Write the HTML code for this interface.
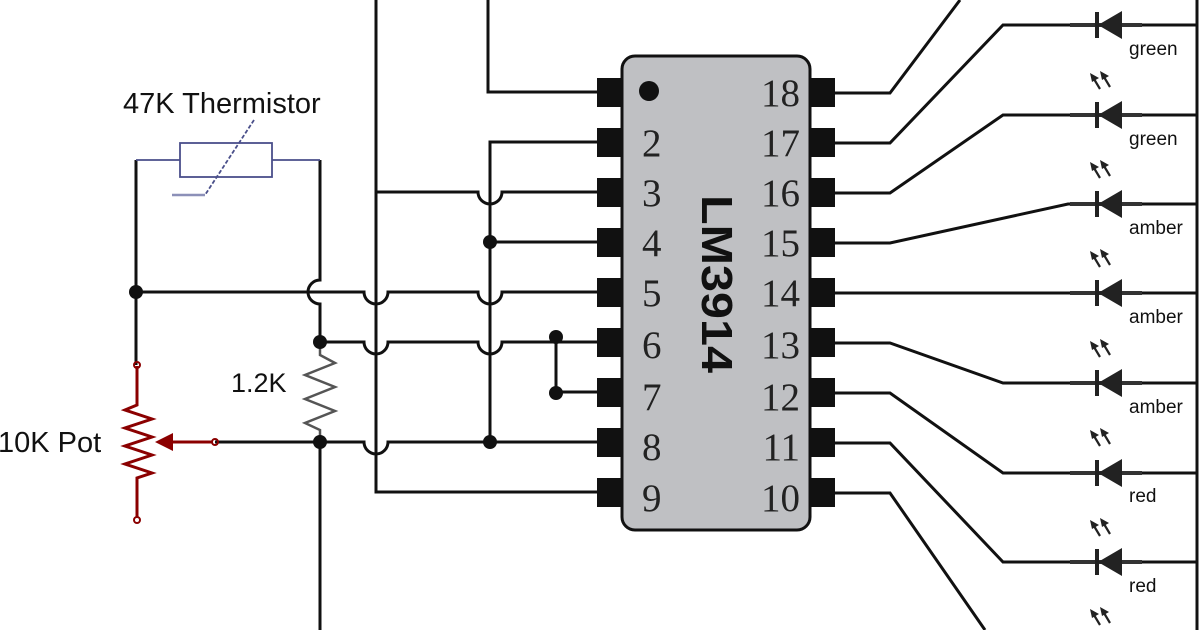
<!DOCTYPE html>
<html><head><meta charset="utf-8"><style>
html,body{margin:0;padding:0;background:#fff;}
svg{display:block;}
</style></head><body>
<svg width="1200" height="630" viewBox="0 0 1200 630" xmlns="http://www.w3.org/2000/svg">
<defs>
<g id="arr">
<path d="M1100 7 L1094 -3 M1110 5 L1104 -5" stroke="#222" stroke-width="2.2" fill="none"/>
<path d="M1090 -9 L1099 -4 L1092 0 Z M1100 -11 L1109 -6 L1102 -2 Z" fill="#222"/>
</g>
<g id="led">
<path d="M1070 0 H1142" stroke="#333" stroke-width="4"/><rect x="1095" y="-13" width="4" height="26" fill="#222"/><path d="M1098 0 L1122 -14 V14 Z" fill="#222"/>
</g>
</defs>
<g fill="none" stroke="#111" stroke-width="3">
<path d="M376 0 V492 H597"/>
<path d="M488 0 V92 H597"/>
<path d="M597 142 H490 V442"/>
<path d="M376 192 H478 A12 12 0 0 0 502 192 H597"/>
<path d="M490 242 H597"/>
<path d="M136 292 H364 A12 12 0 0 0 388 292 H478 A12 12 0 0 0 502 292 H597"/>
<path d="M320 342 H364 A12 12 0 0 0 388 342 H478 A12 12 0 0 0 502 342 H597"/>
<path d="M556 342 V392 H597"/>
<path d="M215 442 H364 A12 12 0 0 0 388 442 H597"/>
<path d="M320 160 V280 A12 12 0 0 0 320 304 V342"/>
<path d="M320 435 V630"/>
<path d="M136 160 V292 V365"/>
</g>
<path d="M320 342 V355 L335 363 L305 375 L335 387 L305 399 L335 411 L305 423 L320 430 V442" fill="none" stroke="#555" stroke-width="2.5"/>
<g stroke="#4a4f8a" stroke-width="1.8" fill="none">
<path d="M136 160 H180 M272 160 H320"/>
<rect x="180" y="143" width="92" height="34"/>
<path d="M254 120 L205 195" stroke-dasharray="4 2"/>
</g>
<path d="M172 195 H205" stroke="#8c90b8" stroke-width="2.5"/>
<g fill="#111">
<circle cx="136" cy="292" r="7"/><circle cx="320" cy="342" r="7"/><circle cx="320" cy="442" r="7"/>
<circle cx="490" cy="242" r="7"/><circle cx="490" cy="442" r="7"/>
<circle cx="556" cy="337" r="7"/><circle cx="556" cy="393" r="7"/>
</g>
<g stroke="#8b0000" stroke-width="3" fill="none">
<path d="M137 366 V405 L125 410 L152 419 L125 428 L152 437 L125 446 L152 455 L125 464 L152 473 L137 478 V518"/>
<path d="M213 442 H170"/>
<circle cx="137" cy="365" r="3" stroke-width="2"/>
<circle cx="137" cy="520" r="3" stroke-width="2"/>
<circle cx="215" cy="442" r="3" stroke-width="2"/>
</g>
<path d="M155 442 L173 433 L173 451 Z" fill="#8b0000"/>
<g fill="#111">
<rect x="597" y="78" width="25" height="29"/><rect x="597" y="128" width="25" height="29"/><rect x="597" y="178" width="25" height="29"/>
<rect x="597" y="228" width="25" height="29"/><rect x="597" y="278" width="25" height="29"/><rect x="597" y="328" width="25" height="29"/>
<rect x="597" y="378" width="25" height="29"/><rect x="597" y="428" width="25" height="29"/><rect x="597" y="478" width="25" height="29"/>
<rect x="810" y="78" width="25" height="29"/><rect x="810" y="128" width="25" height="29"/><rect x="810" y="178" width="25" height="29"/>
<rect x="810" y="228" width="25" height="29"/><rect x="810" y="278" width="25" height="29"/><rect x="810" y="328" width="25" height="29"/>
<rect x="810" y="378" width="25" height="29"/><rect x="810" y="428" width="25" height="29"/><rect x="810" y="478" width="25" height="29"/>
</g>
<rect x="622" y="56" width="188" height="474" rx="13" fill="#bfc0c3" stroke="#111" stroke-width="3"/>
<circle cx="649" cy="91" r="10" fill="#111"/>
<g font-family="Liberation Serif, serif" font-size="39" fill="#222">
<text x="642" y="156">2</text><text x="642" y="206">3</text><text x="642" y="256">4</text><text x="642" y="306">5</text>
<text x="642" y="358">6</text><text x="642" y="410">7</text><text x="642" y="460">8</text><text x="642" y="511">9</text>
<g text-anchor="end"><text x="800" y="106">18</text><text x="800" y="156">17</text><text x="800" y="206">16</text><text x="800" y="256">15</text>
<text x="800" y="306">14</text><text x="800" y="358">13</text><text x="800" y="410">12</text><text x="800" y="460">11</text><text x="800" y="511">10</text></g>
</g>
<text transform="translate(702,195) rotate(90)" font-family="Liberation Sans, sans-serif" font-weight="bold" font-size="44" textLength="178" lengthAdjust="spacingAndGlyphs" fill="#111">LM3914</text>
<g fill="none" stroke="#111" stroke-width="3">
<path d="M835 93 H890 L960 0"/>
<path d="M835 143 H890 L1003 25 H1070"/>
<path d="M835 193 H890 L1003 115 H1070"/>
<path d="M835 243 H890 L1068 204 H1070"/>
<path d="M835 293 H1070"/>
<path d="M835 343 H890 L1003 383 H1070"/>
<path d="M835 393 H890 L1003 473 H1070"/>
<path d="M835 443 H890 L1003 562 H1070"/>
<path d="M835 493 H890 L985 630"/>
<path d="M1197 0 V630"/>
<path d="M1142 25 H1197 M1142 115 H1197 M1142 204 H1197 M1142 293 H1197 M1142 383 H1197 M1142 473 H1197 M1142 562 H1197"/>
</g>
<use href="#led" y="25"/><use href="#led" y="115"/><use href="#led" y="204"/><use href="#led" y="293"/>
<use href="#led" y="383"/><use href="#led" y="473"/><use href="#led" y="562"/>
<use href="#arr" y="82"/><use href="#arr" y="171"/><use href="#arr" y="260"/><use href="#arr" y="350"/>
<use href="#arr" y="439"/><use href="#arr" y="529"/><use href="#arr" y="618"/>
<g font-family="Liberation Sans, sans-serif" font-size="19" fill="#111">
<text x="1129" y="55">green</text><text x="1129" y="145">green</text><text x="1129" y="234">amber</text>
<text x="1129" y="323">amber</text><text x="1129" y="413">amber</text><text x="1129" y="502">red</text><text x="1129" y="592">red</text>
</g>
<g font-family="Liberation Sans, sans-serif" font-size="29" fill="#111">
<text x="123" y="113">47K Thermistor</text>
<text x="-2" y="452">10K Pot</text>
<text x="231" y="392" font-size="27">1.2K</text>
</g>
</svg>
</body></html>
